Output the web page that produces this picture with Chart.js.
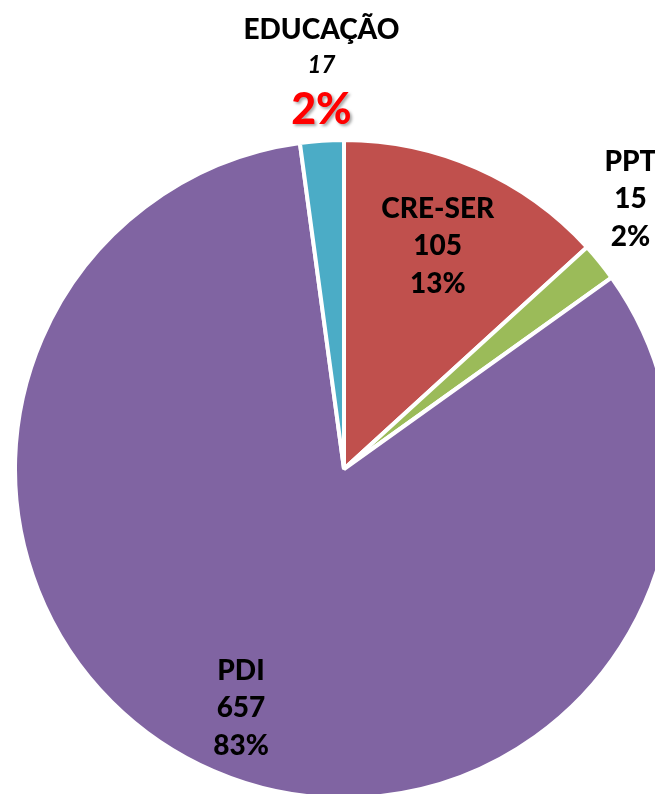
<!DOCTYPE html>
<html>
<head>
<meta charset="utf-8">
<script src="https://cdn.jsdelivr.net/npm/chart.js@4"></script>
<style>
  html, body { margin: 0; padding: 0; background: #fff; overflow: hidden; }
  #wrap { width: 690px; height: 800px; }
</style>
</head>
<body>
<div id="wrap"><canvas id="pie" width="690" height="800"></canvas></div>
<script>
// chart data
const categories = ['CRE-SER', 'PPT', 'PDI', 'EDUCAÇÃO'];
const counts = [105, 15, 657, 17];
const sliceColors = ['#C0504D', '#9BBB59', '#8064A2', '#4BACC6'];

// where each label sits: angle shift from slice middle (deg), distance as share of radius
const labelPlacement = [
    { shift: -1.0, dist: 0.735 },
    { shift: -4.3, dist: 1.196 },
    { shift: 0, dist: 0.79 },
    { shift: 0.65, dist: 1.23 }
];

const total = counts.reduce((a, b) => a + b, 0);

const sliceLabels = {
    id: 'sliceLabels',
    afterDatasetsDraw(chart) {
        const ctx = chart.ctx;
        const meta = chart.getDatasetMeta(0);
        ctx.save();
        ctx.textAlign = 'center';
        ctx.textBaseline = 'middle';
        meta.data.forEach((arc, i) => {
            const p = labelPlacement[i];
            const mid = (arc.startAngle + arc.endAngle) / 2 + p.shift * Math.PI / 180;
            const r = arc.outerRadius * p.dist;
            const x = arc.x + Math.cos(mid) * r;
            const y = arc.y + Math.sin(mid) * r;
            const pct = Math.round(counts[i] / total * 100) + '%';

            if (categories[i] === 'EDUCAÇÃO') {
                ctx.fillStyle = '#000';
                ctx.font = '900 28px Lato';
                ctx.fillText(categories[i], x, y - 35);
                ctx.font = 'italic bold 24px Lato';
                ctx.fillText(String(counts[i]), x, y);
                ctx.save();
                ctx.shadowColor = 'rgba(0,0,0,0.35)';
                ctx.shadowOffsetX = 2;
                ctx.shadowOffsetY = 2;
                ctx.shadowBlur = 3;
                ctx.fillStyle = '#FF0000';
                ctx.font = '900 43px Lato';
                ctx.fillText(pct, x, y + 45);
                ctx.restore();
            } else {
                ctx.fillStyle = '#000';
                ctx.font = '900 28px Lato';
                ctx.fillText(categories[i], x, y - 37);
                ctx.fillText(String(counts[i]), x, y);
                ctx.fillText(pct, x, y + 38);
            }
        });
        ctx.restore();
    }
};

const ctx = document.getElementById('pie').getContext('2d');
new Chart(ctx, {
    type: 'pie',
    data: {
        labels: categories,
        datasets: [{
            data: counts,
            backgroundColor: sliceColors,
            borderColor: '#ffffff',
            borderWidth: 4
        }]
    },
    options: {
        responsive: false,
        animation: false,
        devicePixelRatio: 1,
        layout: {
            padding: { left: 13, right: 15, top: 138, bottom: 0 }
        },
        plugins: {
            legend: { display: false },
            tooltip: { enabled: false }
        }
    },
    plugins: [sliceLabels]
});
</script>
</body>
</html>
